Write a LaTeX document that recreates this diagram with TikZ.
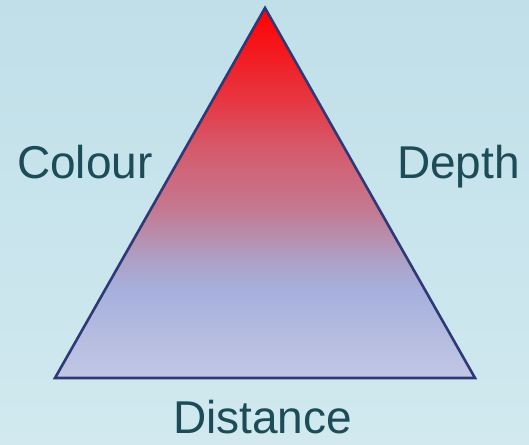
\documentclass[tikz,border=0pt]{standalone}
\usepackage{fontspec}
\setmainfont{Liberation Sans}
\definecolor{bgtop}{HTML}{C0DFE9}
\definecolor{bgbot}{HTML}{D1E9EF}
\definecolor{edge}{HTML}{2E3A78}
\definecolor{txt}{HTML}{1B4C58}
\definecolor{sh1}{HTML}{C2C7E4}
\definecolor{sh2}{HTML}{A6B0DC}
\definecolor{sh3}{HTML}{AEA0C6}
\definecolor{sh4}{HTML}{C47890}
\definecolor{sh5}{HTML}{D65A6C}
\definecolor{sh6}{HTML}{E8343F}
\definecolor{sh7}{HTML}{FF0000}
\pgfdeclareverticalshading{trishade}{100bp}{color(0bp)=(sh1); color(25bp)=(sh1); color(37bp)=(sh2);
  color(41bp)=(sh3); color(48bp)=(sh4); color(56bp)=(sh5); color(63bp)=(sh6); color(75bp)=(sh7); color(100bp)=(sh7)}
\begin{document}
\begin{tikzpicture}[x=1pt,y=-1pt,lbl/.style={text=txt,font=\fontsize{46}{52}\selectfont,anchor=base west,inner sep=0pt,text depth=0pt}]
\path[top color=bgtop,bottom color=bgbot](0,0)rectangle(529,444);
\useasboundingbox(0,0)rectangle(529,444);

\coordinate(apex)at(265,8);
\coordinate(bl)at(55,378);
\coordinate(br)at(475,378);
\draw[edge,line width=2.6pt,line join=miter,shading=trishade](apex)--(br)--(bl)--cycle;

\node[lbl](colour)at(17,178){Colour};
\node[lbl](depth)at(397,178){Depth};
\node[lbl](distance)at(173,433){Distance};
\end{tikzpicture}
\end{document}
